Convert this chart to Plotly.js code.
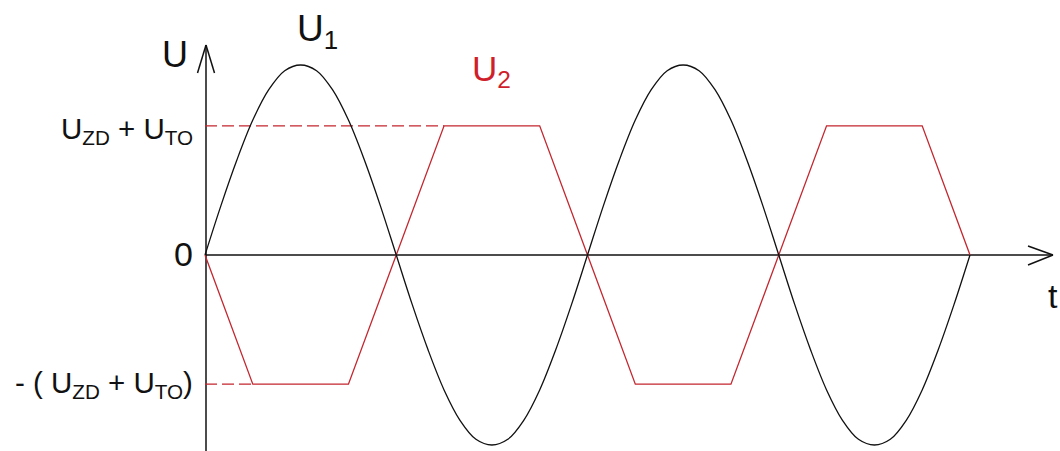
<!DOCTYPE html>
<html>
<head>
<meta charset="utf-8">
<script src="https://cdn.plot.ly/plotly-3.0.1.min.js"></script>
<style>html,body{margin:0;padding:0;background:#fff;}#chart{width:1060px;height:451px;}</style>
</head>
<body>
<div id="chart"></div>
<script>
// ---- data (phase in degrees, voltage normalised to U1 peak) ----
var t_u1 = [0,15,30,45,60,75,90,105,120,135,150,165,180,195,210,225,240,255,270,285,300,315,330,345,360,
            375,390,405,420,435,450,465,480,495,510,525,540,555,570,585,600,615,630,645,660,675,690,705,720];
var u1 = [0,0.26,0.5,0.71,0.87,0.97,1,0.97,0.87,0.71,0.5,0.26,0,-0.26,-0.5,-0.71,-0.87,-0.97,-1,-0.97,-0.87,-0.71,-0.5,-0.26,0,
          0.26,0.5,0.71,0.87,0.97,1,0.97,0.87,0.71,0.5,0.26,0,-0.26,-0.5,-0.71,-0.87,-0.97,-1,-0.97,-0.87,-0.71,-0.5,-0.26,0];
var t_u2 = [0,45,135,180,225,315,360,405,495,540,585,675,720];
var u2 = [0,-0.68,-0.68,0,0.68,0.68,0,-0.68,-0.68,0,0.68,0.68,0];
var t_dashTop = [0,225];
var u_dashTop = [0.68,0.68];
var t_dashBot = [0,45];
var u_dashBot = [-0.68,-0.68];
var labelU = "U";
var labelU1 = "U<sub>1</sub>";
var labelU2 = "U<sub>2</sub>";
var labelTop = "U<sub>ZD</sub> + U<sub>TO</sub>";
var labelZero = "0";
var labelBot = "- ( U<sub>ZD</sub> + U<sub>TO</sub>)";
var labelT = "t";

// ---- pixel helpers for layout placement ----
var W = 1060, H = 451;
var OX = 205, SX = 1.0625, OY = 255, SY = 190;
function X(px){ return (px - OX) / SX; }
function Y(py){ return (OY - py) / SY; }

var BLACK = '#111111', RED = '#c4262e';
var FONT = 'Liberation Sans, Arial, sans-serif';

var traces = [
  {x: t_dashTop, y: u_dashTop, mode: 'lines', line: {color: RED, width: 1.3, dash: '12px,5px'}, hoverinfo: 'skip'},
  {x: t_dashBot, y: u_dashBot, mode: 'lines', line: {color: RED, width: 1.3, dash: '12px,5px'}, hoverinfo: 'skip'},
  {x: t_u2, y: u2, mode: 'lines', line: {color: RED, width: 1.3}, name: 'U2'},
  {x: t_u1, y: u1, mode: 'lines', line: {color: BLACK, width: 1.3, shape: 'spline', smoothing: 1}, name: 'U1'}
];

function seg(x0,y0,x1,y1){
  return {type:'line', xref:'x', yref:'y', x0:x0, y0:y0, x1:x1, y1:y1, line:{color:BLACK, width:1.5}, layer:'below'};
}
var shapes = [
  seg(X(206), Y(451), X(206), Y(45)),
  seg(X(206), Y(45), X(197.5), Y(73)),
  seg(X(206), Y(45), X(214.5), Y(73)),
  seg(X(205), Y(255), X(1053), Y(255)),
  seg(X(1053), Y(255), X(1028), Y(246)),
  seg(X(1053), Y(255), X(1028), Y(265))
];

function ann(text, px, py, xanchor, size, color){
  return {text: text, x: X(px), y: Y(py), xref: 'x', yref: 'y', xanchor: xanchor, yanchor: 'middle',
          showarrow: false, font: {family: FONT, size: size, color: color || BLACK}};
}
var annotations = [
  ann(labelU, 160, 54, 'left', 36),
  ann(labelU1, 295, 31, 'left', 37),
  ann(labelU2, 470, 71, 'left', 35, '#d01f2c'),
  ann(labelTop, 195, 130, 'right', 29.5),
  ann(labelZero, 195, 254, 'right', 34),
  ann(labelBot, 195, 384, 'right', 29.5),
  ann(labelT, 1046, 296, 'left', 34)
];

var layout = {
  width: W, height: H,
  margin: {l: 0, r: 0, t: 0, b: 0, pad: 0},
  paper_bgcolor: '#ffffff', plot_bgcolor: '#ffffff',
  showlegend: false,
  xaxis: {range: [X(0), X(W)], visible: false, fixedrange: true},
  yaxis: {range: [Y(H), Y(0)], visible: false, fixedrange: true},
  shapes: shapes,
  annotations: annotations
};
Plotly.newPlot('chart', traces, layout, {staticPlot: true, displayModeBar: false});
</script>
</body>
</html>
